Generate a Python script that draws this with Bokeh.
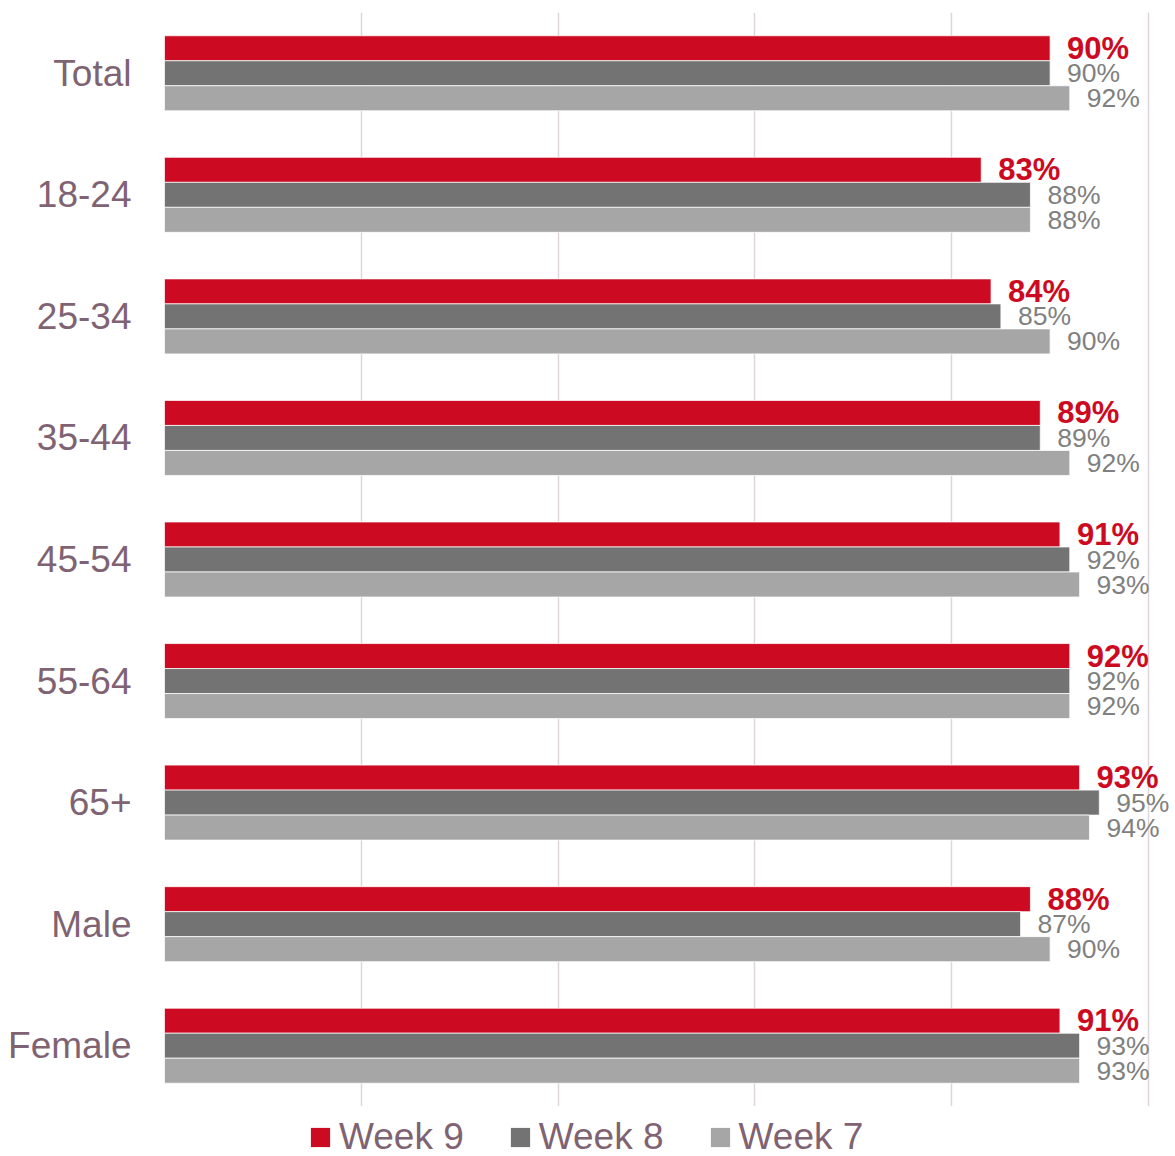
from bokeh.plotting import figure
from bokeh.layouts import column
from bokeh.models import FactorRange, Range1d, FixedTicker, Legend, LegendItem, ColumnDataSource
from bokeh.transform import dodge
from bokeh.core.properties import value
from bokeh.embed import file_html
from bokeh.resources import INLINE

categories = ["Total", "18-24", "25-34", "35-44", "45-54", "55-64", "65+", "Male", "Female"]
week9 = [90, 83, 84, 89, 91, 92, 93, 88, 91]
week8 = [90, 88, 85, 89, 92, 92, 95, 87, 93]
week7 = [92, 88, 90, 92, 93, 92, 94, 90, 93]
series_names = ["Week 9", "Week 8", "Week 7"]
grid_ticks = [0, 20, 40, 60, 80, 100]

RED = "#CC0A21"
DARK = "#737373"
LIGHT = "#A6A6A6"
LABEL_GREY = "#808080"
MAUVE = "#7F6373"
FONT = "Liberation Sans"
COLORS = [RED, DARK, LIGHT]

src = ColumnDataSource(dict(
    cat=categories,
    w9=week9, w8=week8, w7=week7,
    l9=[f"{v}%" for v in week9],
    l8=[f"{v}%" for v in week8],
    l7=[f"{v}%" for v in week7],
))

W = 1170
LEFT = 164
PX_PER_UNIT = 9.84
p = figure(
    width=W, height=1106,
    y_range=FactorRange(*reversed(categories)),
    x_range=Range1d(0, (W - LEFT) / PX_PER_UNIT),
    output_backend="svg", toolbar_location=None,
    min_border_left=LEFT, min_border_right=0, min_border_top=12, min_border_bottom=0,
)

bh = 0.2057
off = 0.2057
specs = [("w9", "l9", RED, off),
         ("w8", "l8", DARK, 0.0),
         ("w7", "l7", LIGHT, -off)]
for col, lcol, color, d in specs:
    p.hbar(y=dodge("cat", d, range=p.y_range), right=col, left=0, height=bh,
           source=src, fill_color=color, line_color="white", line_width=0.75)
    is_red = color == RED
    p.text(x=col, y=dodge("cat", d, range=p.y_range), text=lcol, source=src,
           x_offset=17, text_align="left", text_baseline="middle",
           text_font=value(FONT),
           text_font_size="31px" if is_red else "26.5px",
           text_font_style="bold" if is_red else "normal",
           text_color=RED if is_red else LABEL_GREY)

p.xaxis.visible = False
p.xaxis.ticker = FixedTicker(ticks=grid_ticks)
p.xgrid.ticker = FixedTicker(ticks=grid_ticks)
p.xgrid.grid_line_color = "#DDD5D9"
p.xgrid.grid_line_width = 1.5
p.ygrid.grid_line_color = None
p.outline_line_color = None

yax = p.yaxis[0]
yax.axis_line_color = None
yax.major_tick_line_color = None
yax.minor_tick_line_color = None
yax.major_tick_out = 0
yax.major_tick_in = 0
yax.minor_tick_out = 0
yax.major_label_standoff = 33
yax.major_label_text_font = FONT
yax.major_label_text_font_size = "37px"
yax.major_label_text_color = MAUVE
yax.major_label_overrides = {"Total": "Total\u2002"}

# legend strip (renderers hidden; only used for legend swatches)
lp = figure(width=W, height=50, x_axis_type=None, y_axis_type=None,
            x_range=Range1d(0, 100), y_range=FactorRange(*categories),
            output_backend="svg", toolbar_location=None,
            min_border_left=0, min_border_right=0, min_border_top=0, min_border_bottom=0)
lp.outline_line_color = None
lp.xgrid.visible = False
lp.ygrid.visible = False
items = []
for (col, _, color, _d), name in zip(specs, series_names):
    r = lp.hbar(y="cat", right=col, left=0, height=0.5, source=src,
                fill_color=color, line_color=None, visible=False)
    items.append(LegendItem(label=name, renderers=[r]))

legend = Legend(items=items, orientation="horizontal", location=(144, -2))
legend.glyph_width = 24
legend.glyph_height = 24
legend.label_standoff = 7
legend.spacing = 44
legend.padding = 0
legend.margin = 0
legend.border_line_color = None
legend.background_fill_alpha = 0
legend.inactive_fill_alpha = 0
legend.label_text_font = FONT
legend.label_text_font_size = "37px"
legend.label_text_color = MAUVE
legend.label_text_baseline = "middle"
lp.add_layout(legend, "center")

layout = column(p, lp, spacing=0)
open("out.html", "w").write(file_html(layout, INLINE))
